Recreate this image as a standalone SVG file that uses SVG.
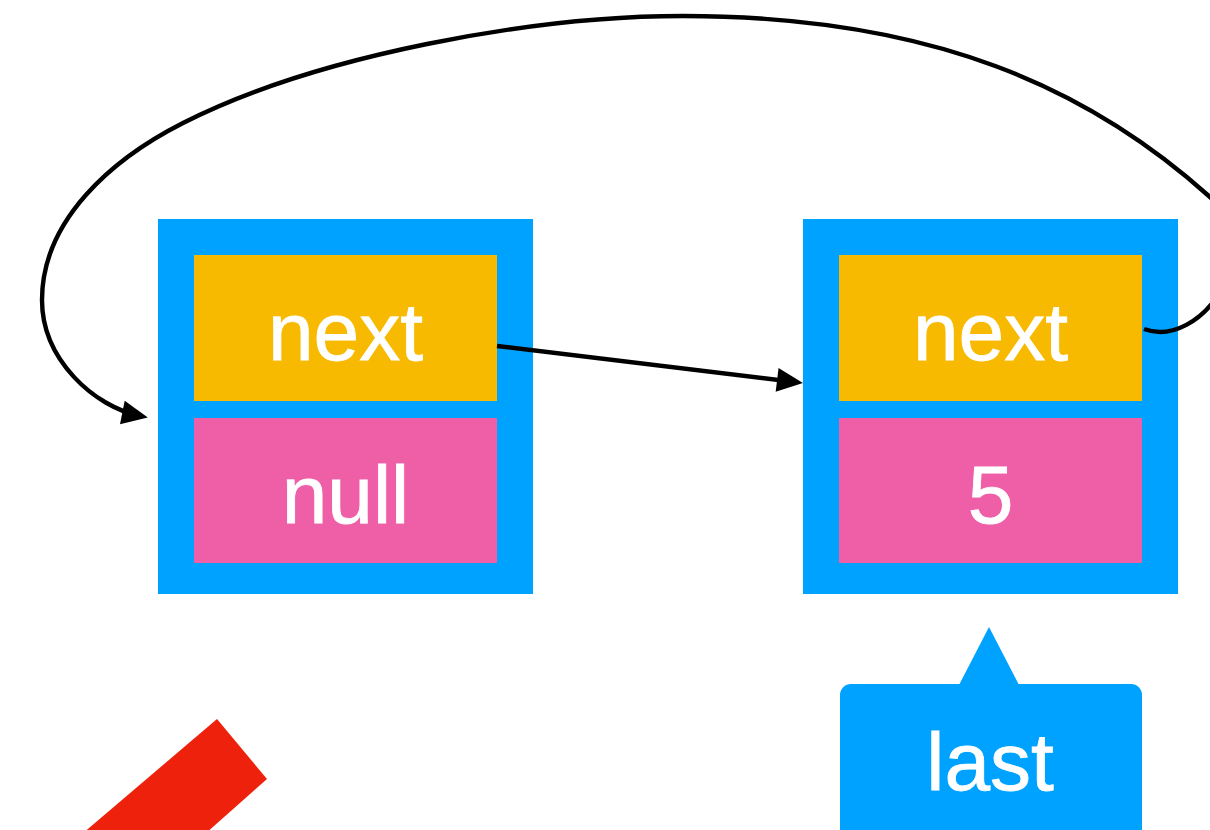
<svg xmlns="http://www.w3.org/2000/svg" width="1210" height="830" viewBox="0 0 1210 830">
  <style>
    .frame { fill: #00A2FF; }
    .ptr { fill: #F7BA00; }
    .val { fill: #EF5FA7; }
    .label { fill: #FFFFFF; stroke: #FFFFFF; stroke-width: 0.8; font-family: "Liberation Sans", Arial, Helvetica, sans-serif; font-size: 82px; text-anchor: middle; }
    .edge { fill: none; stroke: #000000; stroke-width: 4.4; }
  </style>
  <defs>
    <marker id="arrow" markerUnits="userSpaceOnUse" markerWidth="26" markerHeight="24" refX="18" refY="12" orient="auto" overflow="visible">
      <path d="M0,0 L26,12 L0,24 Z" fill="#000000"/>
    </marker>
  </defs>

  <rect width="1210" height="830" fill="#FFFFFF"/>

  <!-- first list node: sentinel holding null -->
  <g id="node-head">
    <rect class="frame" x="158" y="219" width="375" height="375"/>
    <rect class="ptr" x="194" y="255" width="303" height="146"/>
    <rect class="val" x="194" y="418" width="303" height="145"/>
    <text class="label" x="345.5" y="360">next</text>
    <text class="label" x="345.5" y="523">null</text>
  </g>

  <!-- second list node: value 5 -->
  <g id="node-five">
    <rect class="frame" x="803" y="219" width="375" height="375"/>
    <rect class="ptr" x="839" y="255" width="303" height="146"/>
    <rect class="val" x="839" y="418" width="303" height="145"/>
    <text class="label" x="990.5" y="360">next</text>
    <text class="label" x="990.5" y="523">5</text>
  </g>

  <!-- callout naming the last node -->
  <g id="last-callout">
    <polygon class="frame" points="959,685 989,627 1019,685"/>
    <rect class="frame" x="840" y="684" width="302" height="170" rx="11" ry="11"/>
    <text class="label" x="990" y="790">last</text>
  </g>

  <!-- red marker shape, bottom left -->
  <g id="red-mark">
    <polygon points="217,719 267,779 205,834 82,834" fill="#EE220C"/>
  </g>

  <g id="connectors">
    <path class="edge" d="M497,346 L795,382" marker-end="url(#arrow)"/>
    <path class="edge" d="M1144,329 C1200,350 1270,251 1210,197 C1090,89 933,16 683,16 C533,16 317,55 183,123 C112,159 42,220 42,300 C42,360 95,407 140,416" marker-end="url(#arrow)"/>
  </g>
</svg>
